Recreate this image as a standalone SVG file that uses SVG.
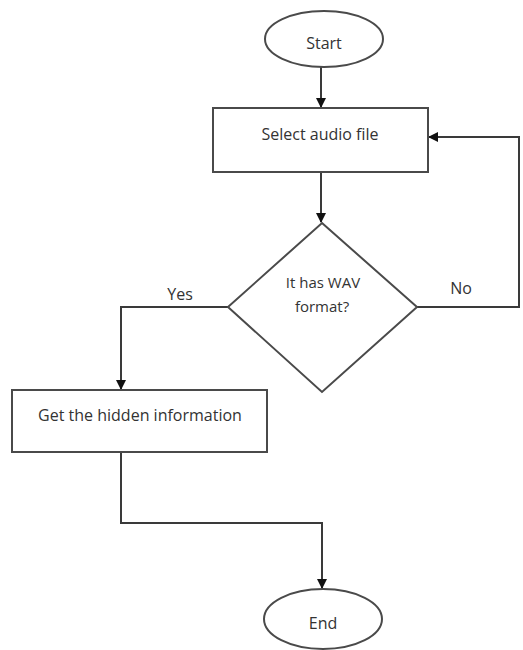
<svg xmlns="http://www.w3.org/2000/svg" width="523" height="650" viewBox="0 0 523 650">
<style>
.s{fill:#fff;stroke:#4a4a4a;stroke-width:2}
.c{fill:none;stroke:#3a3a3a;stroke-width:2}
.t{font-family:"Open Sans","Liberation Sans",sans-serif;font-size:16px;fill:#333;text-anchor:middle}
.d{font-size:15px}
</style>
<defs>
<marker id="a" markerWidth="10" markerHeight="10" refX="9" refY="5" orient="auto" markerUnits="userSpaceOnUse">
<path d="M0,0 L10,5 L0,10 Z" fill="#111"/>
</marker>
</defs>
<rect width="523" height="650" fill="#fff"/>
<g id="connectors">
<line class="c" x1="321" y1="67" x2="321" y2="107" marker-end="url(#a)"/>
<line class="c" x1="321" y1="172" x2="321" y2="222" marker-end="url(#a)"/>
<polyline class="c" points="417,307 519,307 519,137 429,137" marker-end="url(#a)"/>
<polyline class="c" points="228,307 121,307 121,389" marker-end="url(#a)"/>
<polyline class="c" points="121,452 121,523 322,523 322,588" marker-end="url(#a)"/>
</g>
<g id="start">
<ellipse class="s" cx="324" cy="39" rx="59" ry="28"/>
<text class="t" x="324" y="49">Start</text>
</g>
<g id="select">
<rect class="s" x="213" y="108" width="215" height="64"/>
<text class="t" x="320" y="140">Select audio file</text>
</g>
<g id="decision">
<polygon class="s" points="322,223 417,307 322,392 228,307"/>
<text class="t d" x="323" y="288">It has WAV</text>
<text class="t d" x="322" y="312">format?</text>
</g>
<text class="t" x="180" y="300">Yes</text>
<text class="t" x="461" y="294">No</text>
<g id="get">
<rect class="s" x="12" y="390" width="255" height="62"/>
<text class="t" x="140" y="421">Get the hidden information</text>
</g>
<g id="end">
<ellipse class="s" cx="323" cy="619" rx="59" ry="30"/>
<text class="t" x="323" y="629">End</text>
</g>
</svg>
